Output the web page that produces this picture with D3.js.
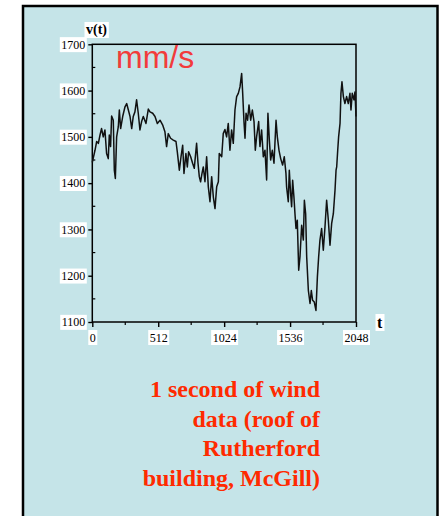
<!DOCTYPE html>
<html><head><meta charset="utf-8">
<script src="https://cdn.jsdelivr.net/npm/d3@7"></script>
<style>
html,body{margin:0;padding:0;background:#fff;}
svg{display:block;}
</style></head>
<body>
<svg id="c" width="441" height="516"></svg>
<script>
const times = [0,21,34,47,60,72,85,98,111,124,132,142,150,163,171,179,189,202,210,220,236,254,267,280,293,306,318,331,344,357,370,383,396,417,435,448,469,487,505,526,546,564,577,590,608,629,650,660,676,689,702,712,727,738,748,764,779,792,810,821,831,841,852,862,875,888,901,914,927,940,953,966,979,986,1005,1017,1030,1043,1056,1069,1082,1095,1108,1121,1134,1147,1160,1168,1178,1186,1194,1206,1217,1230,1243,1256,1266,1276,1292,1302,1315,1328,1341,1354,1364,1375,1385,1398,1411,1427,1437,1450,1463,1478,1491,1504,1509,1522,1530,1540,1548,1556,1566,1574,1582,1592,1603,1613,1626,1639,1647,1657,1665,1678,1691,1701,1711,1724,1737,1748,1758,1768,1781,1794,1807,1820,1833,1846,1859,1872,1885,1893,1898,1906,1913,1924,1931,1939,1950,1962,1975,1988,2001,2009,2019,2032,2040,2048];
const speeds = [1445,1471,1490,1486,1504,1518,1500,1515,1464,1453,1504,1479,1545,1536,1428,1410,1500,1522,1558,1518,1544,1565,1572,1558,1544,1518,1544,1554,1580,1551,1515,1533,1544,1529,1560,1554,1551,1544,1529,1536,1526,1511,1479,1507,1497,1493,1490,1468,1428,1457,1482,1421,1464,1435,1468,1457,1443,1432,1486,1443,1414,1403,1421,1435,1403,1457,1392,1360,1414,1370,1345,1392,1403,1464,1457,1507,1516,1500,1529,1471,1515,1486,1558,1587,1594,1608,1637,1594,1533,1497,1551,1536,1569,1536,1558,1533,1471,1500,1533,1479,1515,1457,1471,1407,1551,1493,1450,1471,1443,1536,1500,1471,1453,1439,1457,1421,1392,1360,1428,1378,1349,1406,1370,1334,1302,1320,1212,1241,1309,1277,1363,1334,1241,1168,1140,1168,1147,1143,1125,1197,1241,1277,1302,1255,1305,1363,1320,1266,1313,1334,1385,1428,1435,1471,1500,1529,1594,1619,1587,1572,1587,1572,1594,1558,1594,1580,1597,1544];
const xTicks = [0,512,1024,1536,2048];
const xMinor = [256,768,1280,1792];
const yTicks = [1100,1200,1300,1400,1500,1600,1700];
const yMinor = [1150,1250,1350,1450,1550,1650];
const captionLines = ["1 second of wind","data (roof of","Rutherford","building, McGill)"];

const svg = d3.select("#c");
svg.append("rect").attr("x",23).attr("y",6).attr("width",414.5).attr("height",530)
  .attr("fill","#c5e4e8").attr("stroke","#000").attr("stroke-width",2.5);

const x = d3.scaleLinear().domain([0,2048]).range([92.3,356]);
const y = d3.scaleLinear().domain([1100,1700]).range([322,44.3]);

// frame
svg.append("rect").attr("x",x(0)).attr("y",y(1700)).attr("width",x(2048)-x(0)).attr("height",y(1100)-y(1700))
  .attr("fill","none").attr("stroke","#000").attr("stroke-width",1.5);

// minor ticks
svg.selectAll(".xm").data(xMinor).join("line").attr("x1",d=>x(d)).attr("x2",d=>x(d))
  .attr("y1",y(1100)).attr("y2",y(1100)+3).attr("stroke","#000").attr("stroke-width",1.2);
svg.selectAll(".ym").data(yMinor).join("line").attr("x1",x(0)).attr("x2",x(0)+3)
  .attr("y1",d=>y(d)).attr("y2",d=>y(d)).attr("stroke","#000").attr("stroke-width",1.2);

const font = "'Liberation Serif','Times New Roman',serif";
function labelBg(g){
  g.selectAll(".tick text").each(function(){
    const b=this.getBBox();
    d3.select(this.parentNode).insert("rect","text").attr("x",b.x-1.5).attr("y",b.y-0.5)
      .attr("width",b.width+3).attr("height",b.height+1).attr("fill","#fff");
  });
}
const gx = svg.append("g").attr("transform",`translate(0,${y(1100)})`)
  .call(d3.axisBottom(x).tickValues(xTicks).tickSize(5).tickPadding(6).tickFormat(d3.format("d")));
gx.select(".domain").remove();
gx.selectAll("text").attr("font-family",font).attr("font-size",12).attr("fill","#000");
gx.selectAll("line").attr("stroke-width",1.4);
labelBg(gx);

const gy = svg.append("g").attr("transform",`translate(${x(0)},0)`)
  .call(d3.axisLeft(y).tickValues(yTicks).tickSize(4).tickPadding(3).tickFormat(d3.format("d")));
gy.select(".domain").remove();
gy.selectAll("text").attr("font-family",font).attr("font-size",12).attr("fill","#000");
gy.selectAll("line").attr("stroke-width",1.4);
labelBg(gy);

// axis titles
function boxedText(tx,ty,str,size){
  const t = svg.append("text").attr("x",tx).attr("y",ty).attr("font-family",font)
    .attr("font-weight","bold").attr("font-size",size).attr("fill","#000").text(str);
  const b=t.node().getBBox();
  svg.insert("rect",()=>t.node()).attr("x",b.x-1.5).attr("y",b.y).attr("width",b.width+3).attr("height",b.height).attr("fill","#fff");
}
boxedText(86,34,"v(t)",14);
boxedText(377,328,"t",16);

// line
const line = d3.line().x((d,i)=>x(times[i])).y(d=>y(d));
svg.append("path").datum(speeds).attr("d",line).attr("fill","none")
  .attr("stroke","#111").attr("stroke-width",1.5).attr("stroke-linejoin","round");

svg.append("text").attr("x",116).attr("y",68).attr("font-family","'Liberation Sans',Arial,sans-serif")
  .attr("font-size",32).attr("fill","#f23b3b").text("mm/s");

svg.append("g").selectAll("text").data(captionLines).join("text")
  .attr("x",320).attr("y",(d,i)=>397+i*29.5).attr("text-anchor","end")
  .attr("font-family",font).attr("font-weight","bold").attr("font-size",24)
  .attr("fill","#ff2a00").text(d=>d);
</script>
</body></html>
